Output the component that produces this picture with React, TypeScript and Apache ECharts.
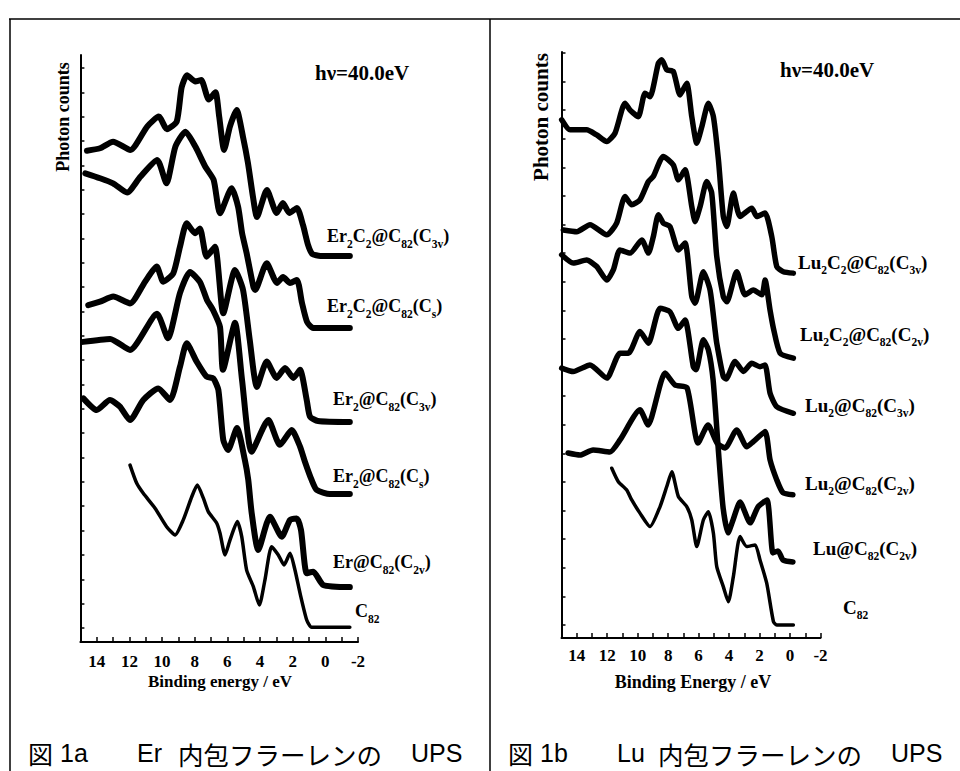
import React, { useEffect, useRef } from "react";
import * as echarts from "echarts";

// ---------- Tick labels ----------
const X_TICK_LABELS = ["14", "12", "10", "8", "6", "4", "2", "0", "-2"];
const LEFT_Y_TICKS = Array.from({ length: 24 }, (_, i) => i);
const RIGHT_Y_TICKS = Array.from({ length: 21 }, (_, i) => i);

// ---------- Panel a : Er ----------
const ER2C2_C3V_E = [14.6, 13.8, 13.0, 11.94, 10.9, 10.2, 9.7, 9.1, 8.8, 8.47, 7.96, 7.6, 7.14, 6.73, 6.5, 6.2, 5.84, 5.43, 5.04, 4.74, 4.43, 4.19, 3.58, 2.98, 2.6, 2.2, 1.74, 1.37, 1.06, 0.8, 0.3, -1.5];
const ER2C2_C3V_V = [19.6, 19.7, 19.97, 19.63, 20.6, 21.0, 20.48, 20.8, 22.2, 22.7, 22.44, 22.5, 21.7, 22.0, 21.0, 19.63, 20.6, 21.27, 20.16, 19.1, 17.7, 16.88, 17.99, 17.04, 17.45, 17.04, 17.25, 16.55, 15.73, 15.36, 15.28, 15.28];

const ER2C2_CS_E = [14.7, 13.8, 13.0, 12.14, 11.33, 10.3, 9.73, 9.18, 8.57, 7.96, 7.35, 6.84, 6.45, 5.74, 5.34, 5.1, 4.82, 4.41, 4.3, 3.59, 2.96, 2.59, 2.16, 1.74, 1.43, 1.12, 0.75, -1.5];
const ER2C2_CS_V = [18.67, 18.47, 18.26, 17.88, 18.53, 19.22, 18.26, 19.77, 20.38, 19.77, 18.94, 18.4, 17.03, 18.06, 17.29, 16.22, 15.39, 14.02, 13.88, 14.98, 14.17, 14.41, 14.17, 14.29, 13.35, 12.57, 12.32, 12.32];

const ER2_C3V_E = [14.52, 13.8, 12.99, 11.96, 11.04, 10.33, 9.92, 9.31, 8.9, 8.49, 7.98, 7.68, 7.27, 6.76, 6.25, 5.53, 5.04, 4.63, 4.19, 3.59, 2.98, 2.47, 1.96, 1.55, 1.14, 0.94, 0.45, -1.5];
const ER2_C3V_V = [13.26, 13.4, 13.61, 13.33, 14.22, 14.84, 14.22, 14.57, 15.66, 16.62, 16.21, 16.41, 15.25, 15.66, 12.92, 14.7, 13.88, 11.83, 9.9, 10.94, 10.27, 10.68, 10.27, 10.6, 9.36, 8.68, 8.5, 8.46];

const ER2_CS_E = [14.84, 13.18, 11.96, 10.31, 9.64, 8.9, 8.29, 7.68, 7.25, 6.88, 6.45, 6.27, 5.53, 5.1, 4.51, 3.49, 2.78, 2.06, 1.55, 1.25, 0.84, 0.53, -0.28, -1.5];
const ER2_CS_V = [11.75, 11.87, 11.42, 12.9, 11.9, 13.76, 14.62, 14.21, 13.47, 13.06, 12.36, 10.6, 12.53, 10.18, 7.24, 8.54, 7.52, 8.13, 7.45, 6.83, 6.08, 5.67, 5.5, 5.5];

const ER_C2V_E = [14.82, 14.0, 13.19, 12.58, 11.96, 11.15, 10.23, 9.51, 8.9, 8.49, 7.88, 7.27, 6.86, 6.55, 6.25, 5.96, 5.41, 4.93, 4.72, 4.51, 4.11, 3.39, 2.67, 2.16, 1.75, 1.49, 1.14, 0.74, 0.13, -1.5];
const ER_C2V_V = [9.43, 8.95, 9.36, 9.09, 8.54, 9.36, 9.84, 9.36, 10.73, 11.69, 10.94, 10.32, 10.25, 9.77, 7.72, 7.31, 8.21, 6.9, 6.08, 4.72, 3.2, 4.57, 3.75, 4.44, 4.5, 4.02, 2.25, 2.31, 1.77, 1.68];

const C82_A_E = [11.96, 11.55, 11.15, 10.43, 9.72, 9.2, 8.7, 8.18, 7.84, 7.47, 7.17, 6.65, 6.45, 6.14, 5.84, 5.39, 5.12, 4.82, 4.41, 4.04, 3.7, 3.29, 2.88, 2.53, 2.16, 1.86, 1.55, 1.14, 0.84, -1.5];
const C82_A_V = [6.69, 5.94, 5.53, 4.92, 4.16, 3.82, 4.44, 5.39, 5.87, 5.33, 4.78, 4.3, 3.89, 3.0, 3.61, 4.37, 3.75, 2.38, 1.7, 0.94, 1.97, 3.34, 3.0, 2.59, 3.07, 2.38, 1.43, 0.33, 0.03, 0.03];

// ---------- Panel b : Lu ----------
const LU2C2_C3V_E = [14.99, 14.44, 13.35, 12.69, 12.03, 11.49, 10.83, 10.5, 9.96, 9.52, 9.19, 8.64, 8.42, 8.09, 7.66, 7.22, 6.78, 6.45, 6.12, 5.79, 5.36, 5.03, 4.7, 4.38, 4.15, 3.72, 3.28, 2.51, 2.18, 1.64, 1.2, 0.87, 0.44, -0.22];
const LU2C2_C3V_V = [17.66, 17.31, 17.31, 17.13, 16.9, 17.19, 18.24, 18.0, 17.77, 18.59, 18.47, 19.64, 19.76, 19.41, 19.35, 18.53, 18.94, 17.77, 16.84, 17.42, 18.24, 17.77, 16.26, 14.28, 13.93, 15.1, 14.28, 14.57, 14.28, 14.4, 13.58, 12.53, 12.35, 12.3];

const LU2C2_C2V_E = [14.88, 14.0, 13.13, 12.03, 11.38, 10.83, 10.39, 9.85, 9.3, 8.97, 8.32, 7.66, 7.33, 6.89, 6.45, 6.23, 5.9, 5.47, 5.14, 4.81, 4.38, 4.15, 3.5, 2.95, 2.41, 1.85, 1.64, 1.31, 1.09, 0.65, -0.22];
const LU2C2_C2V_V = [13.81, 13.75, 13.99, 13.64, 14.05, 14.98, 14.69, 14.86, 15.5, 15.68, 16.38, 16.08, 15.56, 15.91, 14.63, 14.1, 14.63, 15.5, 15.1, 12.88, 11.48, 11.3, 12.35, 11.54, 11.71, 11.54, 12.06, 11.0, 10.37, 9.5, 9.33];

const LU2_C3V_E = [14.99, 14.23, 13.35, 12.69, 12.03, 11.6, 11.16, 10.5, 9.73, 9.3, 8.97, 8.64, 8.32, 7.88, 7.33, 6.89, 6.45, 6.23, 5.69, 5.25, 4.92, 4.81, 4.38, 4.2, 3.61, 3.06, 2.51, 1.97, 1.64, 1.31, 0.87, -0.22];
const LU2_C3V_V = [12.94, 12.65, 12.76, 12.53, 12.06, 12.41, 13.11, 13.0, 13.46, 13.0, 13.58, 14.34, 14.05, 13.93, 13.11, 13.35, 11.48, 11.25, 12.35, 11.71, 10.31, 9.85, 8.68, 8.6, 9.21, 8.86, 9.15, 9.03, 9.09, 8.1, 7.63, 7.4];

const LU_C2V_E = [14.99, 14.23, 13.13, 12.03, 11.16, 10.61, 9.85, 9.3, 8.53, 7.88, 7.33, 6.89, 6.35, 6.17, 5.69, 5.36, 5.05, 4.72, 4.4, 4.07, 3.74, 3.28, 2.62, 2.1, 1.51, 1.12, 0.79, 0.46, -0.19];
const LU_C2V_V = [8.98, 8.86, 9.09, 8.63, 9.5, 9.5, 10.26, 9.85, 11.07, 10.95, 10.37, 10.66, 9.03, 8.92, 9.97, 9.62, 8.57, 6.22, 4.13, 3.22, 3.67, 4.3, 3.57, 4.13, 4.37, 2.52, 2.59, 2.27, 2.2];

const LU2_C2V_E = [14.57, 13.79, 12.93, 11.82, 11.16, 9.85, 9.32, 8.2, 7.55, 6.76, 6.04, 5.38, 4.79, 4.26, 3.5, 2.84, 2.41, 1.64, 1.31, 0.87, 0.46, -0.19];
const LU2_C2V_V = [6.01, 5.94, 6.12, 6.05, 6.47, 7.52, 6.99, 8.81, 8.39, 8.29, 6.36, 6.99, 6.36, 6.19, 6.82, 6.23, 6.41, 6.76, 5.77, 5.07, 4.62, 4.55];

const C82_B_E = [11.7, 11.27, 10.72, 10.39, 9.85, 9.19, 8.53, 8.09, 7.76, 7.33, 6.78, 6.45, 6.12, 5.69, 5.36, 5.03, 4.81, 4.38, 4.05, 3.72, 3.28, 2.84, 2.29, 1.97, 1.53, 1.09, 0.87, -0.22];
const C82_B_V = [5.48, 5.01, 4.72, 4.37, 3.91, 3.44, 4.14, 4.84, 5.36, 4.49, 4.14, 3.67, 2.74, 3.67, 3.96, 3.21, 2.04, 1.34, 0.81, 1.69, 3.09, 2.74, 2.8, 2.27, 1.46, 0.12, 0.0, 0.0];

// ---------- Labels ----------
const LEFT_NAMES = ["Er_{2}C_{2}@C_{82}(C_{3v})", "Er_{2}C_{2}@C_{82}(C_{s})", "Er_{2}@C_{82}(C_{3v})", "Er_{2}@C_{82}(C_{s})", "Er@C_{82}(C_{2v})", "C_{82}"];
const RIGHT_NAMES = ["Lu_{2}C_{2}@C_{82}(C_{3v})", "Lu_{2}C_{2}@C_{82}(C_{2v})", "Lu_{2}@C_{82}(C_{3v})", "Lu_{2}@C_{82}(C_{2v})", "Lu@C_{82}(C_{2v})", "C_{82}"];

const SERIF = "'Liberation Serif', 'Times New Roman', serif";
const SANS = "'Liberation Sans', Arial, 'Noto Sans CJK JP', sans-serif";
const CJK = "'Noto Sans CJK JP', sans-serif";

function toRich(s: string) {
  return s.replace(/([^_{}]+)|_\{([^}]*)\}/g, (_m, a, b) => (a !== undefined ? `{m|${a}}` : `{s|${b}}`));
}

function pairs(e: number[], v: number[]) {
  return e.map((x, i) => [x, v[i]]);
}

export default function App() {
  const ref = useRef<HTMLDivElement>(null);
  useEffect(() => {
    if (!ref.current) return;
    const chart = echarts.init(ref.current, null, { renderer: "svg" });

    const axisLine = { onZero: false, lineStyle: { color: "#000", width: 2 } };
    const xAxisBase = (grid: number) => ({
      gridIndex: grid,
      type: "value",
      min: -2,
      max: 15,
      interval: 1,
      inverse: true,
      axisLine,
      axisTick: { inside: true, length: 5, lineStyle: { color: "#000", width: 1.5 } },
      axisLabel: {
        color: "#000",
        fontFamily: SERIF,
        fontWeight: "bold",
        fontSize: 17,
        margin: grid === 0 ? 11 : 9,
        formatter: (val: number) => {
          const s = String(val);
          return X_TICK_LABELS.includes(s) ? s : "";
        },
      },
      splitLine: { show: false },
    });
    const yAxisBase = (grid: number, min: number, max: number, ticks: number[]) => ({
      gridIndex: grid,
      type: "value",
      min,
      max,
      axisLine,
      axisTick: { show: true, inside: true, length: 4, customValues: ticks, lineStyle: { color: "#000", width: 1.5 } },
      axisLabel: { show: false },
      splitLine: { show: false },
    });

    const mk = (e: number[], v: number[], idx: number, thin = false) => ({
      type: "line",
      xAxisIndex: idx,
      yAxisIndex: idx,
      data: pairs(e, v),
      showSymbol: false,
      smooth: 0.2,
      silent: true,
      lineStyle: thin
        ? { color: "#000", width: 3.5, cap: "round", join: "round" }
        : { color: "#000", width: idx === 0 ? 6 : 5.5, cap: "round", join: "round" },
    });

    const labelStyle = (size: number) => ({
      m: { fontSize: size, fontWeight: "bold", fontFamily: SERIF, fill: "#000", lineHeight: 28, verticalAlign: "middle" },
      s: { fontSize: 11.5, fontWeight: "bold", fontFamily: SERIF, fill: "#000", lineHeight: 11, verticalAlign: "bottom" },
    });
    const leftLabelPos = [[327, 236], [327, 306], [333, 399], [333, 476], [333, 562], [355, 611]];
    const rightLabelPos = [[798, 262], [800, 334], [805, 405], [805, 483], [813, 548], [843, 607]];

    const labelEls: any[] = [];
    LEFT_NAMES.forEach((n, i) =>
      labelEls.push({ type: "text", x: leftLabelPos[i][0], y: leftLabelPos[i][1], style: { text: toRich(n), rich: labelStyle(18), verticalAlign: "middle", align: "left" } })
    );
    RIGHT_NAMES.forEach((n, i) =>
      labelEls.push({ type: "text", x: rightLabelPos[i][0], y: rightLabelPos[i][1], style: { text: toRich(n), rich: labelStyle(19), verticalAlign: "middle", align: "left" } })
    );

    const txt = (text: string, x: number, y: number, size: number, opts: any = {}) => ({
      type: "text",
      x,
      y,
      rotation: opts.rotation || 0,
      style: {
        text,
        fontSize: size,
        fontWeight: opts.weight || "bold",
        fontFamily: opts.family || SERIF,
        fill: "#000",
        align: opts.align || "center",
        verticalAlign: "middle",
      },
    });
    const cap = (text: string, x: number, family = SANS, size = 25) => txt(text, x, 753, size, { align: "left", weight: "normal", family });

    const option: any = {
      animation: false,
      backgroundColor: "#fff",
      grid: [
        { left: 80.4, top: 55, width: 277.6, height: 587 },
        { left: 561.5, top: 52, width: 259, height: 586 },
      ],
      xAxis: [xAxisBase(0), xAxisBase(1)],
      yAxis: [yAxisBase(0, -0.575, 23.53, LEFT_Y_TICKS), yAxisBase(1, -0.455, 20.03, RIGHT_Y_TICKS)],
      series: [
        mk(ER2C2_C3V_E, ER2C2_C3V_V, 0),
        mk(ER2C2_CS_E, ER2C2_CS_V, 0),
        mk(ER2_C3V_E, ER2_C3V_V, 0),
        mk(ER2_CS_E, ER2_CS_V, 0),
        mk(ER_C2V_E, ER_C2V_V, 0),
        mk(C82_A_E, C82_A_V, 0, true),
        mk(LU2C2_C3V_E, LU2C2_C3V_V, 1),
        mk(LU2C2_C2V_E, LU2C2_C2V_V, 1),
        mk(LU2_C3V_E, LU2_C3V_V, 1),
        mk(LU_C2V_E, LU_C2V_V, 1),
        mk(LU2_C2V_E, LU2_C2V_V, 1),
        mk(C82_B_E, C82_B_V, 1, true),
      ],
      graphic: [
        { type: "line", shape: { x1: 9, y1: 19, x2: 960, y2: 19 }, style: { stroke: "#000", lineWidth: 1.5 } },
        { type: "line", shape: { x1: 10, y1: 19, x2: 10, y2: 771 }, style: { stroke: "#000", lineWidth: 1.5 } },
        { type: "line", shape: { x1: 490, y1: 19, x2: 490, y2: 771 }, style: { stroke: "#000", lineWidth: 1.5 } },
        txt("Photon counts", 63, 117, 18, { rotation: Math.PI / 2 }),
        txt("Photon counts", 541, 117, 21, { rotation: Math.PI / 2 }),
        txt("hν=40.0eV", 315, 73, 21, { align: "left" }),
        txt("hν=40.0eV", 780, 70, 21, { align: "left" }),
        txt("Binding energy / eV", 220, 681, 17),
        txt("Binding Energy / eV", 693, 682, 18),
        cap("図", 28, CJK, 25),
        cap("1a", 60),
        cap("Er", 137),
        cap("内包フラーレンの", 178, CJK, 25.5),
        cap("UPS", 411),
        cap("図", 508, CJK, 25),
        cap("1b", 540),
        cap("Lu", 617),
        cap("内包フラーレンの", 658, CJK, 25.5),
        cap("UPS", 891),
        ...labelEls,
      ],
    };
    chart.setOption(option);
    return () => chart.dispose();
  }, []);
  return <div ref={ref} style={{ position: "absolute", left: 0, top: 0, width: 960, height: 771 }} />;
}
